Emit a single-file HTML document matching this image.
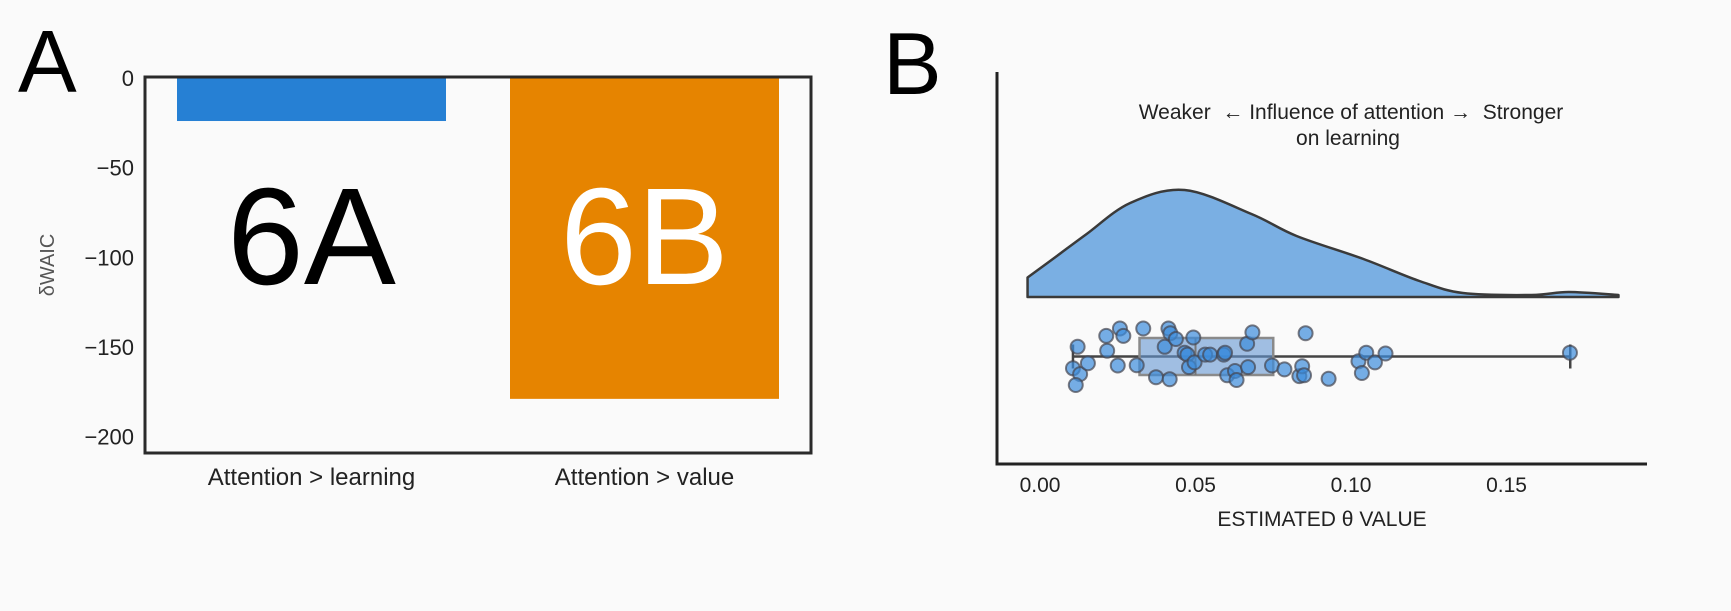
<!DOCTYPE html>
<html><head><meta charset="utf-8">
<style>
html,body{margin:0;padding:0;background:#fafafa;}
svg{display:block;font-family:"Liberation Sans",sans-serif;}
</style></head>
<body>
<svg id="fig" width="1731" height="611" viewBox="0 0 1731 611">
<rect width="1731" height="611" fill="#fafafa"/>
<text x="18" y="92" font-size="88" font-weight="100" fill="#000">A</text>
<text x="883" y="94" font-size="88" font-weight="100" fill="#000">B</text>
<g id="chartA"></g>
<g id="chartB"></g>
</svg>
<script>
// ---- Panel A data ----
const barCategories = ["Attention > learning", "Attention > value"];
const barValues = [-24, -179];
const barLabels = ["6A", "6B"];
const yTicksA = [0, -50, -100, -150, -200];

// ---- Panel B data ----
const densityX = [-0.004, 0.005, 0.015, 0.029, 0.0465, 0.068, 0.0825, 0.104, 0.122, 0.136, 0.158, 0.170, 0.186];
const densityY = [19.5, 40, 63, 94, 107, 83, 61, 38, 16, 4, 2, 5, 2];
const boxStats = [0.0106, 0.032, 0.050, 0.075, 0.1705]; // min, q1, median, q3, max
const pointValues = [0.0121,0.0216,0.0106,0.0129,0.0115,0.0154,0.0213,0.0257,0.0268,0.0250,0.0311,0.0332,0.0401,0.0413,0.0419,0.0437,0.0373,0.0417,0.0465,0.0474,0.0479,0.0497,0.0493,0.0531,0.0547,0.0591,0.0595,0.0602,0.0627,0.0632,0.0669,0.0666,0.0683,0.0746,0.0786,0.0834,0.0843,0.0849,0.0854,0.0928,0.1024,0.1035,0.1049,0.1077,0.1111,0.1704];
const pointJitter = [-9.7,-5.8,11.8,17.6,28.5,6.7,-20.6,-28,-20.6,9,8.7,-28,-9.7,-28,-23.3,-17.5,20.7,22.7,-3.8,-1.9,10.6,5.9,-19,-1.9,-1.9,-1.9,-3.8,18.8,14.5,23.5,10.6,-12.8,-24.1,9,12.9,19.6,9.8,18.8,-23.3,22.3,4.8,16.5,-3.8,5.9,-3,-3.8];
const xTicksB = [0, 0.05, 0.10, 0.15];
const xTickLabelsB = ["0.00", "0.05", "0.10", "0.15"];

const NS = "http://www.w3.org/2000/svg";
function mk(tag, attrs, parent, text){
  const e = document.createElementNS(NS, tag);
  for (const k in attrs) e.setAttribute(k, attrs[k]);
  if (text !== undefined) e.textContent = text;
  parent.appendChild(e); return e;
}

// ---- Panel A ----
(function(){
  const g = document.getElementById('chartA');
  const L=145, R=811, T=77, B=453;
  const y0 = 78, yPer = (436.5-78)/200;
  const ya = v => y0 - v*yPer;
  const bandW = (R-L)/2;
  const bw = 269;
  yTicksA.forEach(t=>{
    const tx = mk('text',{x:134,y:ya(t)+8,'text-anchor':'end','font-size':22,fill:'#222'},g,String(t).replace('-','\u2212'));
    
    
  });
  barValues.forEach((v,i)=>{
    const cx = L + bandW*(i+0.5);
    const r = mk('rect',{x:cx-bw/2,y:ya(0),width:bw,height:ya(v)-ya(0),fill:i===0?'#2680d4':'#e68400'},g);
    
    
    const lb = mk('text',{x:cx,y:284,'text-anchor':'middle','font-size':138,'font-weight':100,fill:i===0?'#000':'#fff'},g,barLabels[i]);
    
    
    const cl = mk('text',{x:cx,y:485,'text-anchor':'middle','font-size':24,fill:'#222'},g,barCategories[i]);
    
    
  });
  const fr = mk('rect',{x:L,y:T,width:R-L,height:B-T,fill:'none',stroke:'#2a2a2a','stroke-width':3},g);
  
  
  const yt = mk('text',{x:0,y:0,'text-anchor':'middle','font-size':20,fill:'#555',transform:'translate(54,265) rotate(-90)'},g,'\u03B4WAIC');
  
  
})();

// ---- Panel B ----
(function(){
  const g = document.getElementById('chartB');
  const xb = v => 1040 + v*3110;
  const base = 297, centerY = 356.5;
  const ax = mk('path',{d:'M997,72 L997,464 L1647,464',fill:'none',stroke:'#222','stroke-width':3},g);
  
  
  xTicksB.forEach((t,i)=>{
    const tx = mk('text',{x:xb(t),y:492,'text-anchor':'middle','font-size':21,fill:'#222'},g,xTickLabelsB[i]);
    
    
  });
  const xt = mk('text',{x:1322,y:526,'text-anchor':'middle','font-size':21,fill:'#222'},g,'ESTIMATED \u03B8 VALUE');
  
  
  const a1 = mk('text',{x:1351,y:119,'text-anchor':'middle','font-size':21,fill:'#222'},g,'Weaker \u00A0\u2190 Influence of attention \u2192 \u00A0Stronger');
  
  
  const a2 = mk('text',{x:1348,y:145,'text-anchor':'middle','font-size':21,fill:'#222'},g,'on learning');
  
  
  // density (smooth catmull-rom)
  const pts = densityX.map((x,i)=>[xb(x), base - densityY[i]]);
  let d = `M${pts[0][0]},${base} L${pts[0][0]},${pts[0][1]}`;
  for (let i=0;i<pts.length-1;i++){
    const p0=pts[Math.max(0,i-1)],p1=pts[i],p2=pts[i+1],p3=pts[Math.min(pts.length-1,i+2)];
    const c1=[p1[0]+(p2[0]-p0[0])/6,p1[1]+(p2[1]-p0[1])/6];
    const c2=[p2[0]-(p3[0]-p1[0])/6,p2[1]-(p3[1]-p1[1])/6];
    d += ` C${c1[0]},${c1[1]} ${c2[0]},${c2[1]} ${p2[0]},${p2[1]}`;
  }
  d += ` L${pts[pts.length-1][0]},${base} Z`;
  const den = mk('path',{d:d,fill:'#7aafe3',stroke:'#3a3a3a','stroke-width':2.5,'stroke-linejoin':'round'},g);
  
  
  // whiskers
  const wl = mk('line',{x1:xb(boxStats[0]),x2:xb(boxStats[4]),y1:centerY,y2:centerY,stroke:'#444','stroke-width':2.5},g);
  
  
  [boxStats[0],boxStats[4]].forEach(v=>{
    const c = mk('line',{x1:xb(v),x2:xb(v),y1:centerY-12,y2:centerY+12,stroke:'#444','stroke-width':2.5},g);
    
    
  });
  const bx = mk('rect',{x:xb(boxStats[1]),y:338,width:xb(boxStats[3])-xb(boxStats[1]),height:37,fill:'rgba(100,150,210,0.6)',stroke:'#8a8a8a','stroke-width':2.5},g);
  
  
  const md = mk('line',{x1:xb(boxStats[2]),x2:xb(boxStats[2]),y1:338,y2:375,stroke:'#777','stroke-width':2},g);
  
  
  pointValues.forEach((v,i)=>{
    const c = mk('circle',{cx:xb(v),cy:centerY+pointJitter[i],r:7,fill:'rgba(60,140,220,0.7)',stroke:'rgba(70,70,80,0.7)','stroke-width':2},g);
    
    
  });
})();
</script>
</body></html>
